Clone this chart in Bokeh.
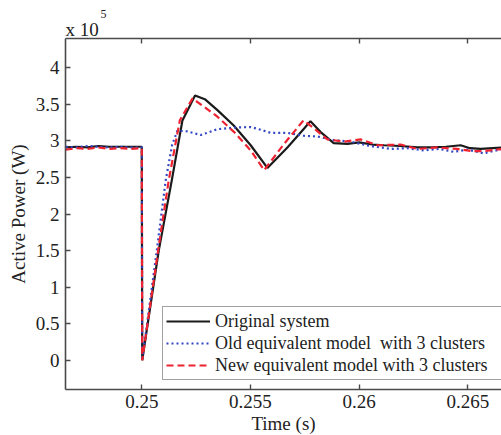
from bokeh.plotting import figure
from bokeh.models import (Range1d, LinearAxis, FixedTicker, CustomJSTickFormatter,
                          Legend, LegendItem, Title)
from bokeh.embed import file_html
from bokeh.resources import INLINE

FONT = "Liberation Serif"

# ---- data (power in units of 1e5 W) ----
orig_t = [0.2465, 0.2470, 0.2475, 0.2480, 0.2485, 0.2490, 0.2495, 0.2500,
          0.25002, 0.25078, 0.25138, 0.25187, 0.25245, 0.2529, 0.25348, 0.25423,
          0.25501, 0.25578, 0.2567, 0.25747, 0.25776, 0.25823, 0.25883, 0.25946,
          0.2600, 0.2606, 0.26115, 0.2619, 0.26268, 0.2633, 0.2640, 0.26467,
          0.2651, 0.26559, 0.2666]
orig_p = [2.91, 2.92, 2.91, 2.93, 2.92, 2.92, 2.92, 2.92,
          0.0, 1.50, 2.46, 3.28, 3.62, 3.57, 3.42, 3.21,
          2.94, 2.63, 2.91, 3.17, 3.27, 3.12, 2.97, 2.96,
          2.98, 2.95, 2.94, 2.93, 2.91, 2.91, 2.92, 2.94,
          2.90, 2.89, 2.91]

old_t = [0.2465, 0.2470, 0.2475, 0.2480, 0.2485, 0.2490, 0.2495, 0.2500,
         0.25002, 0.25069, 0.25110, 0.25140, 0.25164, 0.2521, 0.25271, 0.2531,
         0.25348, 0.2542, 0.25501, 0.2555, 0.25593, 0.2567, 0.25745, 0.25808,
         0.25883, 0.25961, 0.2605, 0.26145, 0.2622, 0.26297, 0.2637, 0.26435,
         0.2650, 0.26573, 0.2666]
old_p = [2.92, 2.91, 2.93, 2.92, 2.91, 2.92, 2.91, 2.91,
         0.0, 1.50, 2.46, 2.95, 3.14, 3.13, 3.08, 3.12,
         3.16, 3.18, 3.19, 3.15, 3.11, 3.11, 3.07, 3.06,
         3.01, 2.99, 2.93, 2.89, 2.90, 2.87, 2.89, 2.85,
         2.88, 2.83, 2.89]

new_t = [0.2465, 0.2470, 0.2475, 0.2480, 0.2485, 0.2490, 0.2495, 0.2500,
         0.25002, 0.25075, 0.25124, 0.25175, 0.25233, 0.2529, 0.25348, 0.25425,
         0.25501, 0.25563, 0.25655, 0.25744, 0.25793, 0.25854, 0.2593, 0.26007,
         0.26084, 0.26191, 0.26268, 0.2636, 0.2645, 0.2652, 0.2657, 0.2666]
new_p = [2.88, 2.90, 2.89, 2.91, 2.89, 2.90, 2.89, 2.90,
         0.0, 1.50, 2.46, 3.28, 3.58, 3.46, 3.33, 3.12,
         2.87, 2.60, 2.96, 3.28, 3.17, 3.02, 2.99, 3.02,
         2.94, 2.95, 2.89, 2.91, 2.89, 2.86, 2.86, 2.89]

x_ticks = [0.25, 0.255, 0.26, 0.265]
y_ticks = [0, 0.5, 1, 1.5, 2, 2.5, 3, 3.5, 4]
labels = ["Original system", "Old equivalent model  with 3 clusters",
          "New equivalent model with 3 clusters"]

AXC = "#4a4a4a"
TXC = "#222222"

p = figure(frame_width=436, frame_height=351,
           x_range=Range1d(0.24649, 0.26655), y_range=Range1d(-0.4, 4.4),
           output_backend="svg", toolbar_location=None,
           min_border_left=65, min_border_right=0, min_border_top=38,
           min_border_bottom=46)
p.outline_line_color = None
p.xgrid.visible = False
p.ygrid.visible = False

r_orig = p.line(orig_t, orig_p, line_color="#1a1a1a", line_width=2.2)
r_old = p.line(old_t, old_p, line_color="#3347c4", line_width=2.2, line_dash="2 3")
r_new = p.line(new_t, new_p, line_color="#ee2230", line_width=2.2, line_dash="7 4")

def style_axis(ax):
    ax.axis_line_color = AXC
    ax.axis_line_width = 1.6
    ax.major_tick_line_color = AXC
    ax.major_tick_line_width = 1.4
    ax.major_tick_in = 5
    ax.major_tick_out = 0
    ax.minor_tick_line_color = None
    ax.major_label_text_font = FONT
    ax.major_label_text_color = TXC
    ax.major_label_text_font_size = "19px"
    ax.axis_label_text_font = FONT
    ax.axis_label_text_font_style = "normal"
    ax.axis_label_text_font_size = "19px"
    ax.axis_label_text_color = TXC

xa = p.xaxis[0]
xa.ticker = FixedTicker(ticks=x_ticks)
xa.formatter = CustomJSTickFormatter(code="return String(Math.round(tick*1000)/1000);")
style_axis(xa)
xa.major_label_standoff = 5
xa.axis_label = "Time (s)"
xa.axis_label_standoff = 2

ya = p.yaxis[0]
ya.ticker = FixedTicker(ticks=y_ticks)
ya.formatter = CustomJSTickFormatter(code="return String(Math.round(tick*10)/10);")
style_axis(ya)
ya.major_label_standoff = 6
ya.axis_label = "Active Power (W)"
ya.axis_label_standoff = 4

top = LinearAxis(ticker=FixedTicker(ticks=x_ticks),
                 formatter=CustomJSTickFormatter(code="return '';"))
style_axis(top)
top.major_label_text_font_size = "1px"
top.major_label_standoff = 0
p.add_layout(top, "above")

p.add_layout(Title(text="x 10", align="left", offset=0, standoff=-2,
                   text_font=FONT, text_font_size="19px",
                   text_font_style="normal", text_color=TXC), "above")
p.add_layout(Title(text="5", align="left", offset=35, standoff=0,
                   text_font=FONT, text_font_size="12px",
                   text_font_style="normal", text_color=TXC), "above")

legend = Legend(items=[LegendItem(label=labels[0], renderers=[r_orig]),
                       LegendItem(label=labels[1], renderers=[r_old]),
                       LegendItem(label=labels[2], renderers=[r_new])],
                location=(97, 9))
legend.label_text_font = FONT
legend.label_text_font_size = "18px"
legend.label_text_color = TXC
legend.border_line_color = "#444444"
legend.border_line_width = 1.2
legend.padding = 3
legend.spacing = 0
legend.margin = 0
legend.label_height = 22
legend.glyph_height = 22
legend.glyph_width = 44
legend.label_standoff = 5
legend.label_width = 290
legend.background_fill_alpha = 1.0
p.add_layout(legend, "center")

open("out.html", "w").write(file_html(p, INLINE))
